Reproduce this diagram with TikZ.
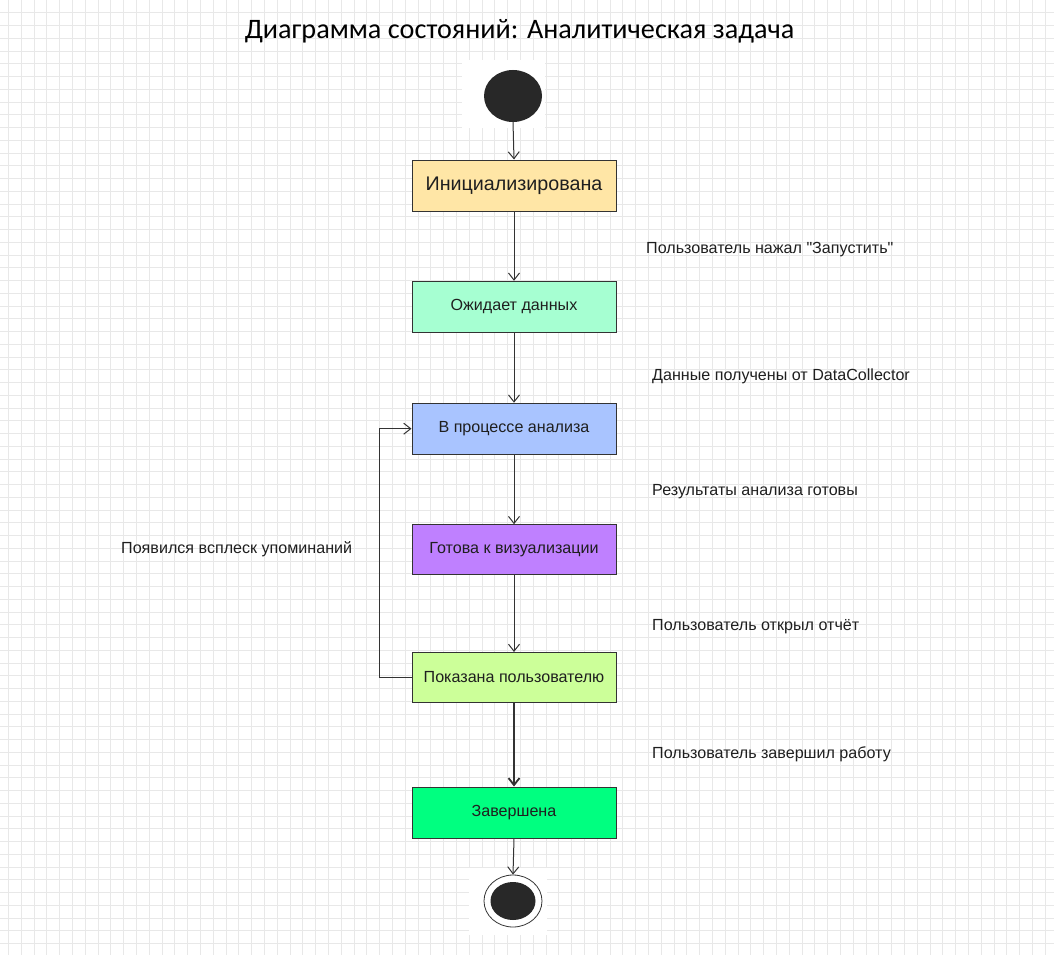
\documentclass[tikz,border=0pt]{standalone}
\usepackage{fontspec}
\setmainfont{Liberation Sans}
\newfontfamily\titlefont{Carlito}
\usetikzlibrary{arrows.meta,shapes.geometric}
\definecolor{edge}{HTML}{333333}
\definecolor{gridgray}{HTML}{E8E8E8}
\definecolor{initfill}{RGB}{255,230,166}
\definecolor{waitfill}{RGB}{166,255,210}
\definecolor{anafill}{RGB}{169,196,255}
\definecolor{readyfill}{RGB}{191,128,255}
\definecolor{shownfill}{RGB}{204,255,153}
\definecolor{donefill}{RGB}{0,255,128}
\definecolor{dotfill}{HTML}{282828}
\begin{document}
\begin{tikzpicture}[x=1pt, y=-1pt,
      every node/.style={font=\fontsize{16.1}{18}\selectfont, text=black!88},
      state/.style={draw=edge, line width=1pt, minimum width=204pt,
                    minimum height=51pt, inner sep=0pt},
      flow/.style={draw=edge, line width=1pt,
                   -{Straight Barb[length=7pt,width=11pt]}},
      note/.style={anchor=base west, inner sep=0pt},
      gridline/.style={draw=gridgray, line width=0.8pt},
    ]
    \useasboundingbox (0,0) rectangle (1054,955);
    \fill[white] (0,0) rectangle (1054,955);

    % --- background grid ---
    \foreach \i in {0,...,82} {
      \draw[gridline] (8.3+\i*12.8, 0) -- (8.3+\i*12.8, 955);
    }
    \foreach \j in {1,...,74} {
      \draw[gridline] (0, \j*12.75) -- (1054, \j*12.75);
    }
    \fill[white] (462,60) rectangle (545,128);
    \fill[white] (469,868) rectangle (547,935);

    % --- title ---
    \node[font=\titlefont\fontsize{28.2}{32}\selectfont, anchor=base, text=black]
      (title) at (519.5,39) {Диаграмма состояний: Аналитическая задача};

    % --- states ---
    \node[ellipse, fill=dotfill, minimum width=58pt, minimum height=52pt,
          inner sep=0pt] (start) at (513,96) {};
    \node[state, fill=initfill, font=\fontsize{19.7}{22}\selectfont]
      (init) at (514,185.5) {Инициализирована};
    \node[state, fill=waitfill] (wait) at (514,306.8) {Ожидает данных};
    \node[state, fill=anafill] (analysis) at (514,428.7) {В процессе анализа};
    \node[state, fill=readyfill, minimum height=50pt]
      (ready) at (514,549.7) {Готова к визуализации};
    \node[state, fill=shownfill, minimum height=50pt]
      (shown) at (514,677.5) {Показана пользователю};
    \node[state, fill=donefill] (done) at (514,812.5) {Завершена};
    \node[ellipse, draw=edge, line width=0.8pt, fill=white, minimum width=58pt,
          minimum height=52pt, inner sep=0pt] (finish) at (513,901) {};
    \node[ellipse, fill=dotfill, minimum width=45pt, minimum height=38pt,
          inner sep=0pt] (finishdot) at (finish.center) {};

    % --- transitions ---
    \draw[flow] (start.south) -- (init.north);
    \draw[flow] (init.south) -- (wait.north);
    \draw[flow] (wait.south) -- (analysis.north);
    \draw[flow] (analysis.south) -- (ready.north);
    \draw[flow] (ready.south) -- (shown.north);
    \draw[flow, line width=1.8pt] (shown.south) -- (done.north);
    \draw[flow] (done.south) -- (finish.north);
    \draw[flow] (shown.west) -- ++(-32,0) |- (analysis.west);

    % --- transition labels ---
    \node[note] (l1) at (646,253)
      {Пользователь нажал \textquotedbl Запустить\textquotedbl};
    \node[note] (l2) at (652,380) {Данные получены от DataCollector};
    \node[note] (l3) at (652,495) {Результаты анализа готовы};
    \node[note] (l4) at (652,630) {Пользователь открыл отчёт};
    \node[note] (l5) at (652,758) {Пользователь завершил работу};
    \node[note] (l6) at (121,553) {Появился всплеск упоминаний};
  \end{tikzpicture}
\end{document}
